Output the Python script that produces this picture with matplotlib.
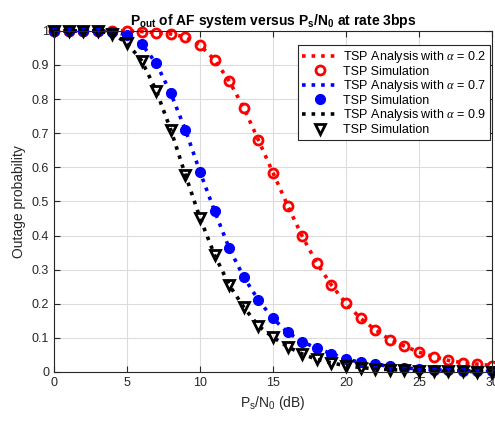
import matplotlib.pyplot as plt
import numpy as np

plt.rcParams['font.family'] = ['Liberation Sans', 'DejaVu Sans']
plt.rcParams['mathtext.fontset'] = 'custom'
plt.rcParams['mathtext.rm'] = 'Liberation Sans'
plt.rcParams['mathtext.it'] = 'Liberation Serif:italic'
plt.rcParams['mathtext.bf'] = 'Liberation Sans:bold'

snr_db = np.arange(0, 31)

# alpha = 0.2
p_a02 = [1.0, 1.0, 1.0, 1.0, 1.0, 1.0, 0.998, 0.995, 0.991, 0.982,
         0.958, 0.915, 0.853, 0.774, 0.680, 0.584, 0.488, 0.398, 0.319, 0.255,
         0.201, 0.157, 0.124, 0.095, 0.076, 0.058, 0.045, 0.034, 0.027, 0.023, 0.019]
# alpha = 0.7
p_a07 = [1.0, 1.0, 1.0, 1.0, 0.997, 0.988, 0.962, 0.905, 0.817, 0.710,
         0.587, 0.472, 0.363, 0.278, 0.211, 0.157, 0.116, 0.089, 0.069, 0.054,
         0.038, 0.028, 0.022, 0.017, 0.012, 0.009, 0.007, 0.005, 0.004, 0.003, 0.002]
# alpha = 0.9
p_a09 = [1.0, 1.0, 1.0, 1.0, 0.992, 0.964, 0.913, 0.825, 0.710, 0.578,
         0.452, 0.343, 0.255, 0.190, 0.135, 0.102, 0.074, 0.053, 0.037, 0.027,
         0.018, 0.013, 0.009, 0.007, 0.005, 0.004, 0.003, 0.002, 0.002, 0.001, 0.001]

fig = plt.figure(figsize=(4.95, 4.23), dpi=100)
ax = fig.add_axes([0.109, 0.1206, 0.885, 0.8064])

ax.plot(snr_db, p_a02, 'r:', lw=2.6, label=r'TSP Analysis with $\alpha$ = 0.2', clip_on=False)
ax.plot(snr_db, p_a02, 'o', ls='none', mfc='none', mec='red', mew=2.0, ms=6.5,
        label='TSP Simulation', clip_on=False)
ax.plot(snr_db, p_a07, 'b:', lw=2.6, label=r'TSP Analysis with $\alpha$ = 0.7', clip_on=False)
ax.plot(snr_db, p_a07, 'o', ls='none', mfc='blue', mec='blue', ms=7,
        label='TSP Simulation', clip_on=False)
ax.plot(snr_db, p_a09, 'k:', lw=2.6, label=r'TSP Analysis with $\alpha$ = 0.9', clip_on=False)
ax.plot(snr_db, p_a09, 'v', ls='none', mfc='none', mec='black', mew=2.0, ms=6.5,
        label='TSP Simulation', clip_on=False)

ax.set_xlim(0, 30)
ax.set_ylim(0, 1)
ax.set_xticks(np.arange(0, 31, 5))
ax.set_yticks(np.arange(0, 1.01, 0.1))
ax.set_yticklabels(['0', '0.1', '0.2', '0.3', '0.4', '0.5', '0.6', '0.7', '0.8', '0.9', '1'])
ax.grid(True, color='#dcdcdc', lw=0.8)
ax.set_axisbelow(True)
ax.tick_params(direction='in', length=4, colors='#262626', labelsize=9, top=True, right=True,
               labeltop=False, labelright=False)
for s in ax.spines.values():
    s.set_color('#262626')
    s.set_linewidth(0.8)

ax.set_xlabel(r'P$_\mathrm{s}$/N$_\mathrm{0}$ (dB)', fontsize=10, color='#262626')
ax.set_ylabel('Outage probability', fontsize=10, color='#262626')
ax.set_title(r'$\mathbf{P_{out}}$ of AF system versus $\mathbf{P_s/N_0}$ at rate 3bps',
             fontsize=10, fontweight='bold', pad=4)

leg = ax.legend(loc='upper right', fontsize=9, fancybox=False, edgecolor='#262626',
                framealpha=1, handlelength=3.0, borderpad=0.3, labelspacing=0.05,
                handletextpad=0.3, borderaxespad=0, bbox_to_anchor=(0.995, 0.958))
leg.get_frame().set_linewidth(0.8)

plt.savefig('out.png', dpi=100)
